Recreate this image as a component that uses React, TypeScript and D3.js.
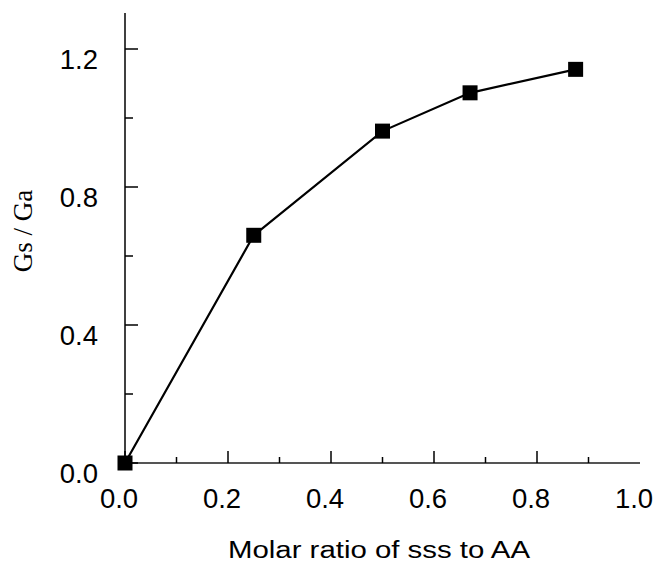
import React from "react";
import * as d3 from "d3";

const xValues = [0.0, 0.25, 0.5, 0.67, 0.875];
const yValues = [0.0, 0.66, 0.962, 1.073, 1.141];
const xTickLabels = ["0.0", "0.2", "0.4", "0.6", "0.8", "1.0"];
const yTickLabels = ["0.0", "0.4", "0.8", "1.2"];
const xMajorTicks = [0, 0.2, 0.4, 0.6, 0.8];
const xMinorTicks = [0.1, 0.3, 0.5, 0.7, 0.9];
const yMajorTicks = [0, 0.4, 0.8, 1.2];
const yMinorTicks = [0.2, 0.6, 1.0];
const xTitle = "Molar ratio of sss to AA";
const yTitle = "Gs / Ga";

const W = 655;
const H = 564;

export default function App() {
  const x = d3.scaleLinear().domain([0, 1]).range([125, 640]);
  const y = d3.scaleLinear().domain([0, 1.3]).range([463, 14.5]);
  const pts = xValues.map((v, i) => [v, yValues[i]] as [number, number]);
  const line = d3
    .line<[number, number]>()
    .x((d) => x(d[0]))
    .y((d) => y(d[1]));
  const num = "'Liberation Sans', Arial, sans-serif";
  const ms = 15;
  return (
    <div style={{ position: "absolute", left: 0, top: 0 }}>
      <svg width={W} height={H} style={{ display: "block", background: "#fff" }}>
        {/* x axis */}
        <line x1={x(0)} x2={x(1)} y1={y(0)} y2={y(0)} stroke="#555" strokeWidth={2} />
        {xMajorTicks.map((t) => (
          <line key={"xM" + t} x1={x(t)} x2={x(t)} y1={y(0)} y2={y(0) - 12} stroke="#000" strokeWidth={1.5} />
        ))}
        {xMinorTicks.map((t) => (
          <line key={"xm" + t} x1={x(t)} x2={x(t)} y1={y(0)} y2={y(0) - 6} stroke="#000" strokeWidth={1.5} />
        ))}
        {xTickLabels.map((l, i) => (
          <text key={"xl" + l} x={x(i * 0.2) - 6} y={508} textAnchor="middle" fontFamily={num} fontSize={27.5} fill="#000">
            {l}
          </text>
        ))}
        {/* y axis */}
        <line x1={x(0)} x2={x(0)} y1={y(0)} y2={13} stroke="#000" strokeWidth={1.5} />
        {yMajorTicks.map((t) => (
          <line key={"yM" + t} x1={x(0)} x2={x(0) + 13} y1={y(t)} y2={y(t)} stroke="#000" strokeWidth={1.5} />
        ))}
        {yMinorTicks.map((t) => (
          <line key={"ym" + t} x1={x(0)} x2={x(0) + 8} y1={y(t)} y2={y(t)} stroke="#000" strokeWidth={1.5} />
        ))}
        {yTickLabels.map((l, i) => (
          <text key={"yl" + l} x={98} y={y(yMajorTicks[i]) + 19.5} textAnchor="end" fontFamily={num} fontSize={27.5} fill="#000">
            {l}
          </text>
        ))}
        {/* titles */}
        <text x={379} y={558} textAnchor="middle" fontFamily={num} fontSize={23} textLength={302} lengthAdjust="spacingAndGlyphs" fill="#000">
          {xTitle}
        </text>
        <text
          transform={`translate(32,231) rotate(-90)`}
          textAnchor="middle"
          fontFamily="'Liberation Serif', 'Times New Roman', serif"
          fontSize={27}
          fill="#000"
        >
          {yTitle}
        </text>
        {/* data */}
        <path d={line(pts) || ""} fill="none" stroke="#000" strokeWidth={2.2} />
        {pts.map((p, i) => (
          <rect key={"p" + i} x={x(p[0]) - ms / 2} y={y(p[1]) - ms / 2} width={ms} height={ms} fill="#000" />
        ))}
      </svg>
    </div>
  );
}
